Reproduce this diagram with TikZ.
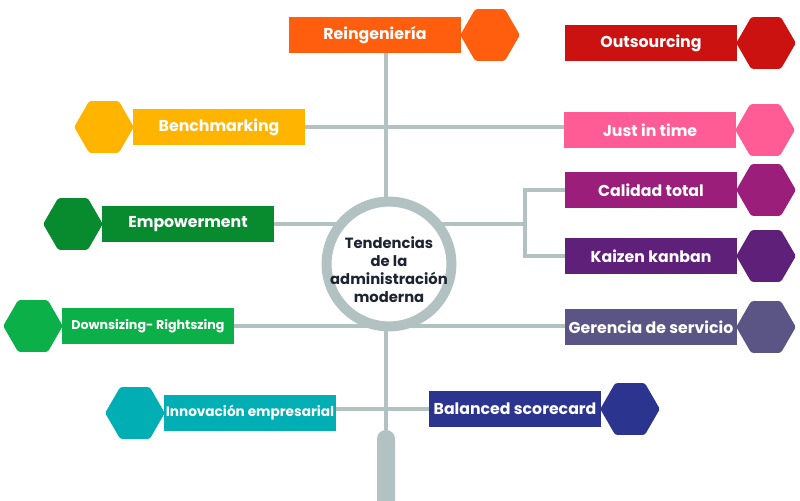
\documentclass[tikz,border=0pt]{standalone}
\usepackage{fontspec}
\setmainfont{Poppins}
\usetikzlibrary{positioning,shapes.geometric,backgrounds}

\definecolor{linegray}{RGB}{178,194,194}
\definecolor{hubtext}{RGB}{28,35,51}
\definecolor{reingc}{RGB}{255,94,14}
\definecolor{outsc}{RGB}{204,17,17}
\definecolor{benchc}{RGB}{255,180,0}
\definecolor{justc}{RGB}{255,92,150}
\definecolor{calc}{RGB}{155,31,122}
\definecolor{kaizc}{RGB}{94,32,120}
\definecolor{empowc}{RGB}{8,138,46}
\definecolor{downsc}{RGB}{12,176,72}
\definecolor{gerenc}{RGB}{90,85,133}
\definecolor{innovc}{RGB}{0,174,180}
\definecolor{balc}{RGB}{43,53,144}

\tikzset{
  tag/.style={fill=#1, text=white, font=\bfseries\fontsize{11.2}{13}\selectfont,
    minimum width=4.3cm, minimum height=0.9cm, inner sep=0pt},
  hexa/.style={regular polygon, regular polygon sides=6, fill=#1,
    minimum size=1.49cm, inner sep=0pt, rounded corners=1.5pt},
  link/.style={draw=linegray, line width=0.1cm}
}

\begin{document}
\begin{tikzpicture}[x=0.025cm, y=-0.025cm]
\useasboundingbox (0,0) rectangle (800,500);

% center
\node[circle, draw=linegray, line width=0.25cm, fill=white, minimum size=3.12cm]
  (hub) at (389,264) {};
\node[align=center, text=hubtext, font=\bfseries\fontsize{10.5}{12.8}\selectfont]
  (hublabel) at ([yshift=-4pt]hub.center) {Tendencias\\de la\\administración\\moderna};
\node[fill=linegray, minimum width=0.45cm, minimum height=2cm, inner sep=0pt,
  rounded corners=0.22cm] (stem) at (386,470) {};

% labels
\node[tag=reingc] (reing) at (375,35) {Reingeniería};
\node[hexa=reingc, right=-1pt of reing] (reinghex) {};
\node[tag=outsc] (outs) at (651,43) {Outsourcing};
\node[hexa=outsc, right=-1pt of outs] (outshex) {};
\node[tag=benchc] (bench) at (219,127) {Benchmarking};
\node[hexa=benchc, left=-1pt of bench] (benchhex) {};
\node[tag=justc] (just) at (650,130) {Just in time};
\node[hexa=justc, right=-1pt of just] (justhex) {};
\node[tag=calc] (cal) at (651,190) {Calidad total};
\node[hexa=calc, right=-1pt of cal] (calhex) {};
\node[tag=kaizc] (kaiz) at (651,256) {Kaizen kanban};
\node[hexa=kaizc, right=-1pt of kaiz] (kaizhex) {};
\node[tag=empowc] (empow) at (188,224) {Empowerment};
\node[hexa=empowc, left=-1pt of empow] (empowhex) {};
\node[tag=downsc, font=\bfseries\fontsize{9}{11}\selectfont] (downs) at (148,326) {Downsizing- Rightszing};
\node[hexa=downsc, left=-1pt of downs] (downshex) {};
\node[tag=gerenc] (geren) at (651,327) {Gerencia de servicio};
\node[hexa=gerenc, right=-1pt of geren] (gerenhex) {};
\node[tag=innovc, font=\bfseries\fontsize{9.7}{12}\selectfont] (innov) at (250,413) {Innovación empresarial};
\node[hexa=innovc, left=-1pt of innov] (innovhex) {};
\node[tag=balc] (bal) at (515,409) {Balanced scorecard};
\node[hexa=balc, right=-1pt of bal] (balhex) {};
\coordinate (fork) at (525,224);

% connectors
\begin{scope}[on background layer]
\draw[link] (stem.north |- reing.south) -- (stem.north);
\draw[link] (bench.east) -- (bench.east -| just.west);
\draw[link] (empow.east) -- (fork);
\draw[link] (cal.west) -| (fork) |- (kaiz.west);
\draw[link] (downs.east) -- (downs.east -| geren.west);
\draw[link] (innov.east |- bal.west) -- (bal.west);
\end{scope}
\end{tikzpicture}
\end{document}
